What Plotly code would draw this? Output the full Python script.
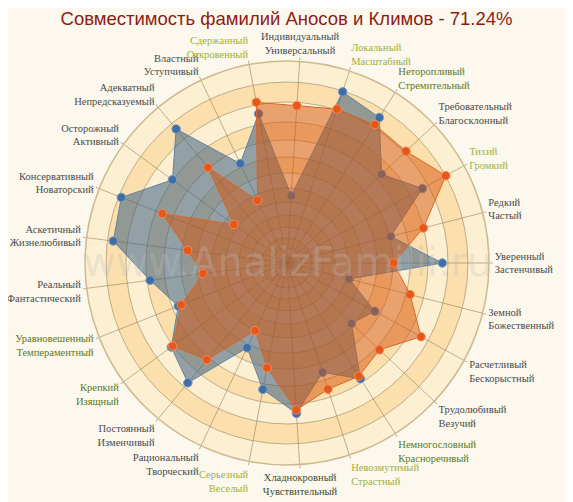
import plotly.graph_objects as go

# ------------------------------------------------------------
# DATA (radius in % of the outer circle)
# ------------------------------------------------------------
traits = [
    ("Индивидуальный", "Универсальный"),
    ("Локальный", "Масштабный"),
    ("Неторопливый", "Стремительный"),
    ("Требовательный", "Благосклонный"),
    ("Тихий", "Громкий"),
    ("Редкий", "Частый"),
    ("Уверенный", "Застенчивый"),
    ("Земной", "Божественный"),
    ("Расчетливый", "Бескорыстный"),
    ("Трудолюбивый", "Везучий"),
    ("Немногословный", "Красноречивый"),
    ("Невозмутимый", "Страстный"),
    ("Хладнокровный", "Чувствительный"),
    ("Серьезный", "Веселый"),
    ("Рациональный", "Творческий"),
    ("Постоянный", "Изменчивый"),
    ("Крепкий", "Изящный"),
    ("Уравновешенный", "Темпераментный"),
    ("Реальный", "Фантастический"),
    ("Аскетичный", "Жизнелюбивый"),
    ("Консервативный", "Новаторский"),
    ("Осторожный", "Активный"),
    ("Адекватный", "Непредсказуемый"),
    ("Властный", "Уступчивый"),
    ("Сдержанный", "Откровенный"),
]

anosov = [33.4, 89.1, 85.3, 64.2, 76.5, 53.0, 76.9, 31.8, 49.6, 43.8,
          67.8, 56.9, 74.6, 63.7, 46.4, 77.0, 70.8, 57.9, 68.3, 86.7,
          88.2, 70.1, 86.1, 54.4, 75.2]

klimov = [78.0, 80.1, 81.1, 80.8, 89.7, 69.7, 52.8, 62.9, 75.7, 62.8,
          66.4, 65.7, 72.9, 52.8, 37.0, 62.2, 70.0, 56.3, 42.0, 49.6,
          66.4, 32.5, 61.4, 34.3, 81.0]

# grid rings (the scale gets denser toward the centre)
rings = [3, 7.4, 12.4, 17.8, 23.8, 30.2, 37.1, 44.6, 52.5, 60.9, 69.8, 79.7, 89.6]

title_text = "Совместимость фамилий Аносов и Климов - 71.24%"
watermark = "www.AnalizFamilii.ru"

# label colours (grey by default)
LIGHT_GREEN = "#9db23a"
DARK_GREEN = "#5a7a1c"
label_colors = {
    "Локальный": LIGHT_GREEN,
    "Тихий": LIGHT_GREEN,
    "Невозмутимый": LIGHT_GREEN,
    "Серьезный": LIGHT_GREEN,
    "Сдержанный": LIGHT_GREEN,
    "Неторопливый": DARK_GREEN,
    "Немногословный": DARK_GREEN,
    "Крепкий": DARK_GREEN,
    "Уравновешенный": DARK_GREEN,
    "Хладнокровный": "#3e4c26",
}

cats = [a + " / " + b for a, b in traits]
ticktext = []
for a, b in traits:
    c = label_colors.get(a, "#4a4a4a")
    ticktext.append(
        f"<span style='color:{c}'>{a}</span><br><span style='color:{c}'>{b}</span>"
    )

# page is shown with an 8px body margin, so work in a 565x494 box
W, H = 565, 494
OFF = 8

# ------------------------------------------------------------
# FIGURE
# ------------------------------------------------------------
fig = go.Figure()

# background bands between the rings
edges = [0] + rings + [100]
n_bands = len(edges) - 1
for k in range(n_bands):
    light = (n_bands - 1 - k) % 2 == 0
    fig.add_trace(go.Barpolar(
        r=[edges[k + 1] - edges[k]],
        base=[edges[k]],
        theta=[0],
        width=[360],
        marker=dict(color="#fdf0d2" if light else "#fbdfad", line=dict(width=0)),
        hoverinfo="skip",
        subplot="polar",
    ))

fig.add_trace(go.Scatterpolar(
    r=anosov + anosov[:1],
    theta=cats + cats[:1],
    mode="lines+markers",
    fill="toself",
    fillcolor="rgba(60,95,130,0.55)",
    line=dict(color="#6283a3", width=1),
    marker=dict(size=8.5, color="#3f6ea6", line=dict(color="#7b9cc4", width=1)),
    name="Аносов",
    subplot="polar2",
))

fig.add_trace(go.Scatterpolar(
    r=klimov + klimov[:1],
    theta=cats + cats[:1],
    mode="lines+markers",
    fill="toself",
    fillcolor="rgba(214,84,10,0.5)",
    line=dict(color="#d7662a", width=1),
    marker=dict(size=8.5, color="#e9561a", line=dict(color="#f38a55", width=1)),
    name="Климов",
    subplot="polar2",
))

# outer circle: centre (287, 263), radius 202 in window pixels
cx, cy, rad = 287 - OFF, 263 - OFF, 202
dom = dict(x=[(cx - rad) / W, (cx + rad) / W],
           y=[(H - cy - rad) / H, (H - cy + rad) / H])
grid = "rgba(140,120,85,0.55)"

fig.update_layout(
    width=W,
    height=H,
    margin=dict(l=0, r=0, t=0, b=0),
    paper_bgcolor="#fcf8ee",
    showlegend=False,
    title=dict(
        text=title_text,
        x=0.5 - OFF / (2 * W) + (287 - OFF - W / 2) / W * 0, y=1 - (19 - OFF) / H,
        xanchor="center", yanchor="middle",
        font=dict(family="Liberation Sans", size=18.5, color="#8e1c12"),
    ),
    polar=dict(
        domain=dom,
        bgcolor="rgba(0,0,0,0)",
        radialaxis=dict(range=[0, 100], visible=False),
        angularaxis=dict(visible=False),
    ),
    polar2=dict(
        domain=dom,
        bgcolor="rgba(0,0,0,0)",
        radialaxis=dict(
            range=[0, 100],
            tickmode="array",
            tickvals=rings,
            showticklabels=False,
            ticks="",
            showline=False,
            gridcolor=grid,
            gridwidth=1,
        ),
        angularaxis=dict(
            type="category",
            categoryarray=cats,
            rotation=86.4,
            direction="clockwise",
            tickmode="array",
            tickvals=cats,
            ticktext=ticktext,
            ticks="outside",
            ticklen=3,
            tickcolor=grid,
            gridcolor=grid,
            showline=True,
            linecolor="#cdb98e",
            linewidth=1.5,
            tickfont=dict(family="Liberation Sans Narrow", size=10.5, color="#4a4a4a"),
        ),
    ),
    annotations=[dict(
        text=watermark,
        x=cx / W, y=1 - (262 - OFF) / H,
        xref="paper", yref="paper",
        showarrow=False,
        font=dict(family="DejaVu Sans", size=40, color="rgba(190,190,190,0.28)"),
    )],
)

fig.write_html("out.html")
